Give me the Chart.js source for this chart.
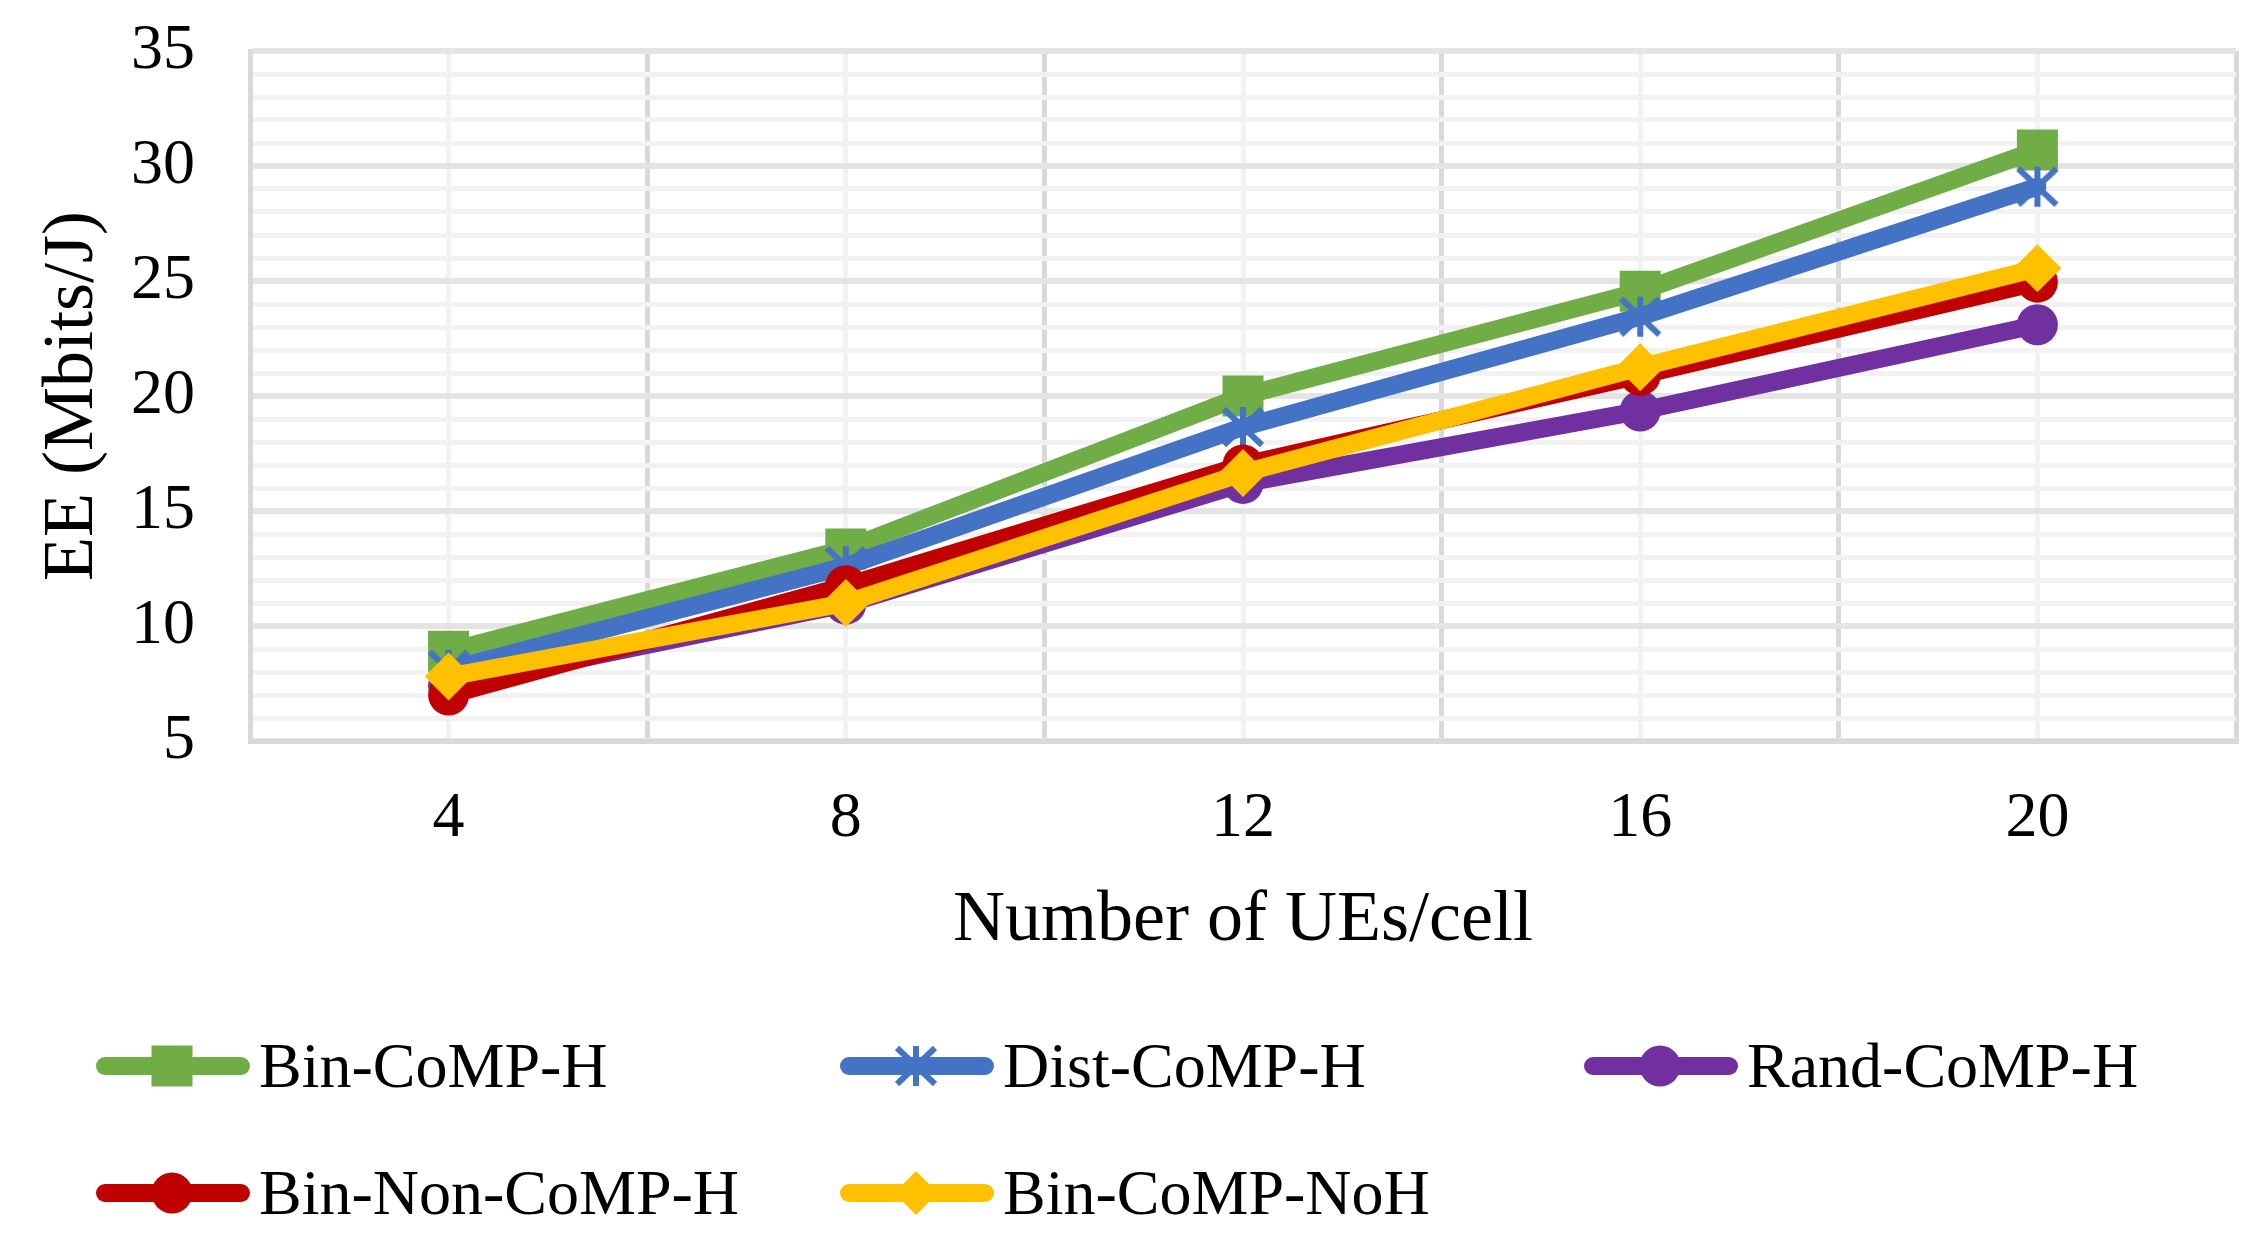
<!DOCTYPE html>
<html>
<head>
<meta charset="utf-8">
<script src="https://cdn.jsdelivr.net/npm/chart.js@4.4.1/dist/chart.umd.min.js"></script>
<style>
  html, body { margin: 0; padding: 0; background: #fff; }
  #wrap { position: relative; width: 2265px; height: 1244px; }
  #legend .sw { position: absolute; }
  #legend .txt {
    position: absolute; height: 50px; display: flex; align-items: center;
    font-family: "Liberation Serif", "Times New Roman", serif;
    font-size: 64px; line-height: 1; color: #000; white-space: nowrap;
  }
</style>
</head>
<body>
<div id="wrap">
  <canvas id="chart"></canvas>
  <div id="legend"></div>
</div>
<script>
// ---- data ----
const ueCounts = [4, 8, 12, 16, 20];
const seriesNames = ['Bin-CoMP-H', 'Dist-CoMP-H', 'Rand-CoMP-H', 'Bin-Non-CoMP-H', 'Bin-CoMP-NoH'];
const binCompH    = [8.9, 13.35, 20.0, 24.55, 30.7];
const distCompH   = [8.1, 12.6, 18.65, 23.45, 29.1];
const randCompH   = [7.4, 10.95, 16.2, 19.35, 23.1];
const binNonCompH = [7.0, 11.75, 17.0, 20.9, 24.95];
const binCompNoH  = [7.8, 11.0, 16.65, 21.25, 25.55];
const seriesValues = [binCompH, distCompH, randCompH, binNonCompH, binCompNoH];

// ---- look ----
const FONT = '"Liberation Serif", "Times New Roman", serif';

function makeStar(color) {
  const c = document.createElement('canvas');
  c.width = 44; c.height = 42;
  const g = c.getContext('2d');
  g.strokeStyle = color;
  g.lineWidth = 6;
  g.beginPath();
  g.moveTo(3, 3);  g.lineTo(41, 39);
  g.moveTo(41, 3); g.lineTo(3, 39);
  g.moveTo(22, 1); g.lineTo(22, 41);
  g.stroke();
  return c;
}

const looks = [
  { color: '#70AD47', style: 'rect',      r: 29 },
  { color: '#4472C4', style: makeStar('#4472C4'), r: 20 },
  { color: '#7030A0', style: 'circle',    r: 20.5 },
  { color: '#C00000', style: 'circle',    r: 20.5 },
  { color: '#FFC000', style: 'rectRot',   r: 24 }
];

const datasets = seriesNames.map((name, i) => ({
  label: name,
  data: ueCounts.map((x, k) => ({ x: x, y: seriesValues[i][k] })),
  borderColor: looks[i].color,
  backgroundColor: looks[i].color,
  borderWidth: 18,
  borderCapStyle: 'round',
  borderJoinStyle: 'round',
  pointStyle: looks[i].style,
  pointRadius: looks[i].r,
  pointBorderWidth: 0,
  pointBackgroundColor: looks[i].color,
  tension: 0,
  order: seriesNames.length - i   // later series drawn on top
}));

const chart = new Chart(document.getElementById('chart'), {
  type: 'line',
  data: { datasets: datasets },
  options: {
    responsive: true,
    maintainAspectRatio: false,
    devicePixelRatio: 1,
    animation: false,
    events: [],
    layout: { padding: { top: 51, right: 29, bottom: 280, left: 0 } },
    plugins: { legend: { display: false }, tooltip: { enabled: false } },
    scales: {
      x: {
        type: 'linear',
        min: 2, max: 22,
        afterFit: s => { s.height = 223; s.paddingLeft = 0; s.paddingRight = 0; },
        ticks: {
          stepSize: 2, autoSkip: false, maxRotation: 0, padding: 40,
          color: '#000', font: { family: FONT, size: 64 },
          callback: v => (v % 4 === 0 ? v : '')
        },
        grid: {
          drawTicks: false,
          color: c => (c.tick && c.tick.value % 4 === 0 ? '#f2f2f2' : '#d9d9d9'),
          lineWidth: 5
        },
        border: { display: true, color: '#d9d9d9', width: 5 },
        title: {
          display: true, text: 'Number of UEs/cell', color: '#000',
          font: { family: FONT, size: 72 }, padding: { top: 0, bottom: 0 }
        }
      },
      y: {
        min: 5, max: 35,
        afterFit: s => { s.width = 250; s.paddingTop = 0; s.paddingBottom = 0; },
        ticks: {
          stepSize: 1, autoSkip: false, padding: 55,
          color: '#000', font: { family: FONT, size: 64 },
          callback: v => (v % 5 === 0 ? v : '')
        },
        grid: {
          drawTicks: false,
          color: c => (c.tick && c.tick.value % 5 === 0 ? '#e4e4e4' : '#f2f2f2'),
          lineWidth: c => (c.tick && c.tick.value % 5 === 0 ? 6 : 5)
        },
        border: { display: true, color: '#d9d9d9', width: 5 },
        title: {
          display: true, text: 'EE (Mbits/J)', color: '#000',
          font: { family: FONT, size: 72 }, padding: { top: 30, bottom: 0 }
        }
      }
    }
  }
});

// ---- legend (3 columns, 2 rows like the original) ----
const legendCols = [96, 840, 1584];
const legendRows = [1066, 1193];
const legend = document.getElementById('legend');
seriesNames.forEach((name, i) => {
  const lx = legendCols[i % 3];
  const ly = legendRows[Math.floor(i / 3)];
  const sw = document.createElement('canvas');
  sw.className = 'sw';
  sw.width = 160; sw.height = 50;
  sw.style.left = lx + 'px';
  sw.style.top = (ly - 25) + 'px';
  const g = sw.getContext('2d');
  g.strokeStyle = looks[i].color;
  g.lineWidth = 18;
  g.lineCap = 'round';
  g.beginPath(); g.moveTo(9, 25); g.lineTo(145, 25); g.stroke();
  g.fillStyle = looks[i].color;
  Chart.helpers.drawPoint(g, {
    pointStyle: looks[i].style,
    radius: looks[i].style === 'rectRot' ? 22 : looks[i].r,
    rotation: 0, borderWidth: 0
  }, 76, 25);
  legend.appendChild(sw);

  const t = document.createElement('div');
  t.className = 'txt';
  t.textContent = name;
  t.style.left = (lx + 163) + 'px';
  t.style.top = (ly - 25) + 'px';
  legend.appendChild(t);
});
</script>
</body>
</html>
